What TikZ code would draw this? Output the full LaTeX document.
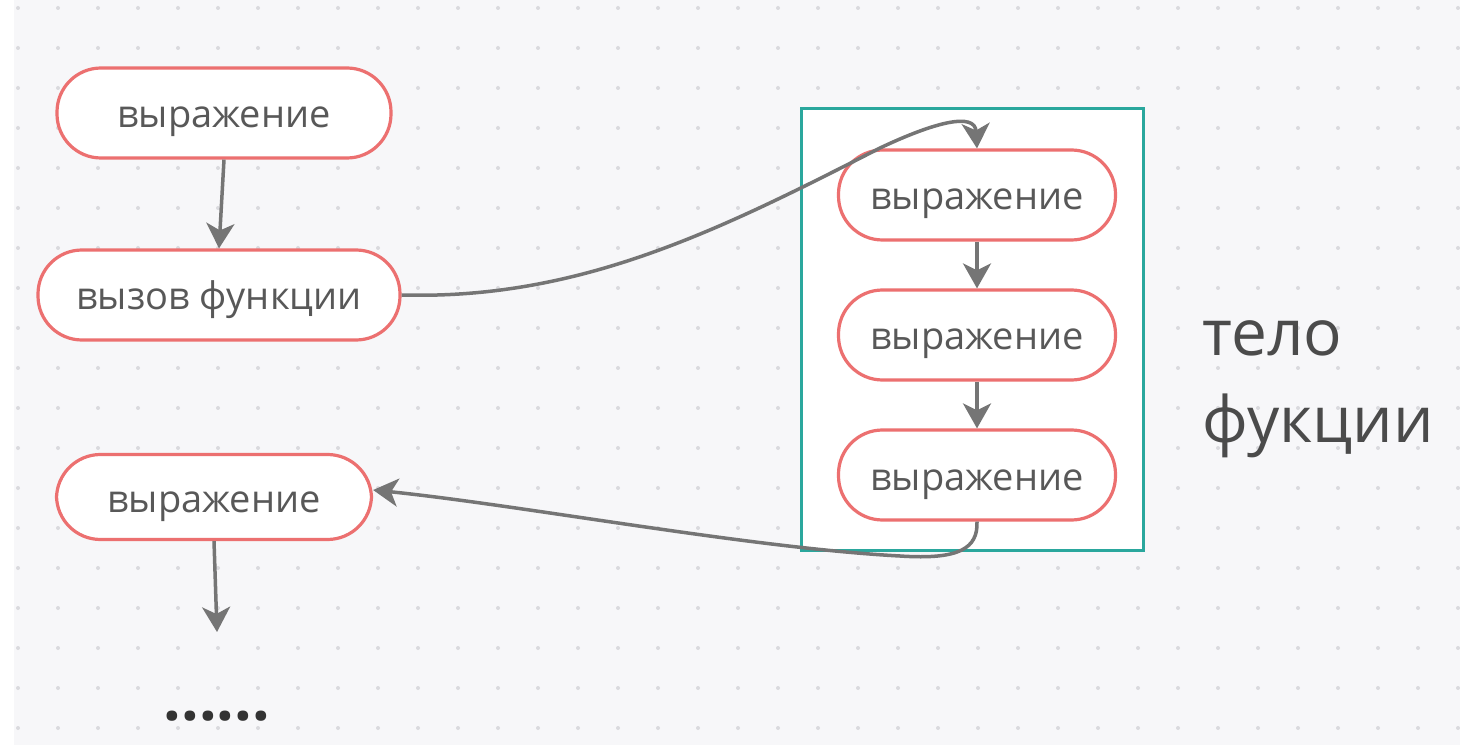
\documentclass[tikz,border=0pt]{standalone}
\usepackage{fontspec}
\setmainfont{Open Sans}
\usetikzlibrary{arrows.meta}
\definecolor{bgc}{HTML}{F7F7F9}
\definecolor{dotc}{HTML}{DADADE}
\definecolor{pillc}{HTML}{EC7070}
\definecolor{txtc}{HTML}{585858}
\definecolor{arrc}{HTML}{757575}
\definecolor{tealc}{HTML}{2AA79D}
\tikzset{
  pill/.style={draw=pillc, line width=3.2pt, fill=white, rounded corners=44pt,
    minimum height=90pt, text=txtc, font=\fontsize{38}{42}\selectfont, inner sep=0pt,
    text height=30pt, text depth=0pt},
  conn/.style={draw=arrc, line width=3.5pt, -{Stealth[length=25pt,width=28pt,inset=7pt]}},
}
\begin{document}
\begin{tikzpicture}[x=1pt,y=-1pt]
\useasboundingbox (0,0) rectangle (1460,751);
\fill[white] (0,0) rectangle (1460,751);
\fill[bgc] (14,0) rectangle (1460,745);
\foreach \i in {0,...,36}{
  \foreach \j in {0,...,18}{
    \fill[dotc] (18+40*\i,8+40*\j) circle (2);
  }
}
\node[pill, minimum width=334pt] (A) at (224,113) {выражение};
\node[pill, minimum width=362pt] (B) at (219,295) {вызов функции};
\node[pill, minimum width=315pt, minimum height=85pt] (C) at (214,497) {выражение};
\draw[tealc, line width=3pt, fill=white] (801,109) rectangle (1143,550);
\node[pill, minimum width=277pt] (R1) at (977,195) {выражение};
\node[pill, minimum width=277pt] (R2) at (977,335) {выражение};
\node[pill, minimum width=277pt] (R3) at (977,475) {выражение};
\node[anchor=north west, align=left, text=txtc!85!black, font=\fontsize{64}{87}\selectfont, inner sep=0pt] (T) at (1202,320) {тело\\фукции};
\coordinate (E) at (217,632);
\node[text=black!80, font=\fontsize{62}{62}\selectfont\bfseries, inner sep=0pt, anchor=base] (D) at (217,720) {......};
\draw[conn] (A.south) -- (B.north);
\draw[conn] (C.south) -- (E);
\draw[conn] (R1.south) -- (R2.north);
\draw[conn] (R2.south) -- (R3.north);
\draw[conn] (B.east) .. controls (580,300) and (720,230) .. (880,148) .. controls (935,122) and (975,112) .. (R1.north);
\draw[conn] (R3.south) .. controls (978,548) and (960,560) .. (900,556) .. controls (750,548) and (520,505) .. ([yshift=7pt]C.east);
\end{tikzpicture}
\end{document}
